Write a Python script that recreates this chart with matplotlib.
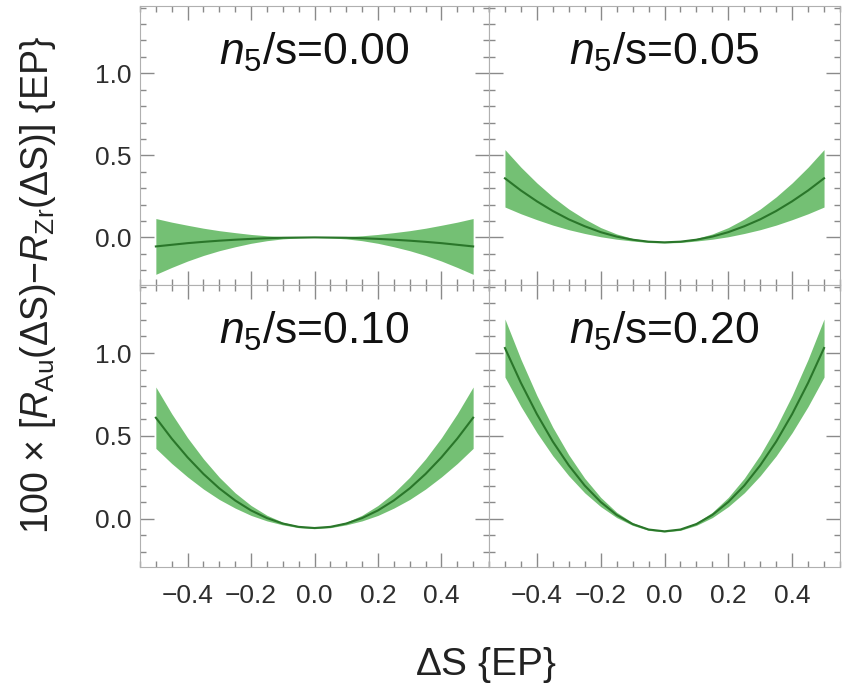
import matplotlib
matplotlib.use('Agg')
import matplotlib.pyplot as plt
from matplotlib.ticker import MultipleLocator

plt.rcParams['font.family'] = ['Liberation Sans', 'DejaVu Sans']
plt.rcParams['mathtext.fontset'] = 'custom'
plt.rcParams['mathtext.rm'] = 'Liberation Sans'
plt.rcParams['mathtext.it'] = 'Liberation Sans:italic'

# Delta S values (EP)
delta_s = [-0.50, -0.45, -0.40, -0.35, -0.30, -0.25, -0.20, -0.15, -0.10, -0.05, 0.00,
           0.05, 0.10, 0.15, 0.20, 0.25, 0.30, 0.35, 0.40, 0.45, 0.50]

panel_labels = ['0.00', '0.05', '0.10', '0.20']

# central curves
center_000 = [-0.055, -0.045, -0.035, -0.027, -0.020, -0.014, -0.009, -0.005, -0.002, -0.001, 0.000,
              -0.001, -0.002, -0.005, -0.009, -0.014, -0.020, -0.027, -0.035, -0.045, -0.055]
center_005 = [0.360, 0.286, 0.220, 0.161, 0.110, 0.068, 0.032, 0.005, -0.014, -0.026, -0.030,
              -0.026, -0.014, 0.005, 0.032, 0.068, 0.110, 0.161, 0.220, 0.286, 0.360]
center_010 = [0.610, 0.484, 0.371, 0.271, 0.184, 0.111, 0.051, 0.005, -0.028, -0.048, -0.055,
              -0.048, -0.028, 0.005, 0.051, 0.111, 0.184, 0.271, 0.371, 0.484, 0.610]
center_020 = [1.030, 0.820, 0.632, 0.466, 0.323, 0.201, 0.102, 0.024, -0.031, -0.064, -0.075,
              -0.064, -0.031, 0.024, 0.102, 0.201, 0.323, 0.466, 0.632, 0.820, 1.030]

# half widths of the uncertainty bands
err_000 = [0.170, 0.138, 0.109, 0.083, 0.061, 0.043, 0.027, 0.015, 0.007, 0.002, 0.000,
           0.002, 0.007, 0.015, 0.027, 0.043, 0.061, 0.083, 0.109, 0.138, 0.170]
err_005 = [0.175, 0.142, 0.112, 0.086, 0.063, 0.044, 0.028, 0.016, 0.008, 0.005, 0.004,
           0.005, 0.008, 0.016, 0.028, 0.044, 0.063, 0.086, 0.112, 0.142, 0.175]
err_010 = [0.185, 0.150, 0.118, 0.091, 0.067, 0.046, 0.030, 0.017, 0.008, 0.005, 0.004,
           0.005, 0.008, 0.017, 0.030, 0.046, 0.067, 0.091, 0.118, 0.150, 0.185]
err_020 = [0.175, 0.142, 0.112, 0.086, 0.063, 0.044, 0.028, 0.016, 0.008, 0.005, 0.004,
           0.005, 0.008, 0.016, 0.028, 0.044, 0.063, 0.086, 0.112, 0.142, 0.175]

centers = [center_000, center_005, center_010, center_020]
errors = [err_000, err_005, err_010, err_020]

fig = plt.figure(figsize=(8.48, 6.86), dpi=100)

# panel boxes in pixels (left, top, right, bottom)
W, H = 848, 686
boxes = [(140, 6, 489, 285), (489, 6, 840, 285),
         (140, 285, 489, 567), (489, 285, 840, 567)]

frame_col = '#b0b0b0'
tick_col = '#8a8a8a'

for i, (l, t, r, b) in enumerate(boxes):
    ax = fig.add_axes([l / W, 1 - b / H, (r - l) / W, (b - t) / H])
    c = centers[i]
    e = errors[i]
    lo = [ci - ei for ci, ei in zip(c, e)]
    hi = [ci + ei for ci, ei in zip(c, e)]
    ax.fill_between(delta_s, lo, hi, color='#6dbd6d', alpha=0.95, lw=0)
    ax.plot(delta_s, c, color='#2a762a', lw=1.5)

    ax.set_xlim(-0.55, 0.55)
    ax.set_ylim(-0.29, 1.41)
    ax.xaxis.set_minor_locator(MultipleLocator(0.05))
    ax.yaxis.set_minor_locator(MultipleLocator(0.1))
    ax.set_xticks([-0.4, -0.2, 0.0, 0.2, 0.4])
    ax.set_xticklabels(['\u22120.4', '\u22120.2', '0.0', '0.2', '0.4'])
    ax.set_yticks([0.0, 0.5, 1.0])
    ax.set_yticklabels(['0.0', '0.5', '1.0'])
    ax.tick_params(which='both', direction='in', top=True, right=True,
                   color=tick_col, labelcolor='#2e2e2e', labelsize=19, width=1.0)
    ax.tick_params(which='major', length=10)
    ax.tick_params(axis='x', which='major', pad=12)
    ax.tick_params(axis='y', which='major', pad=6)
    ax.tick_params(which='minor', length=4)
    if i in (0, 1):
        ax.tick_params(labelbottom=False)
    if i in (1, 3):
        ax.tick_params(labelleft=False)
    for s in ax.spines.values():
        s.set_color(frame_col)
        s.set_linewidth(0.8)
    ax.text(0.5, 0.835, r'$n_5$/s=' + panel_labels[i], transform=ax.transAxes,
            ha='center', va='center', fontsize=32, color='#111111')

fig.text(0.045, 0.585, r'100 $\times$ [$R_{\rm Au}$($\Delta$S)$-$$R_{\rm Zr}$($\Delta$S)] {EP}',
         rotation=90, ha='center', va='center', fontsize=27, color='#222222')
fig.text(0.573, 0.03, r'$\Delta$S {EP}', ha='center', va='center', fontsize=28,
         color='#222222')

fig.savefig('out.png', dpi=100)
